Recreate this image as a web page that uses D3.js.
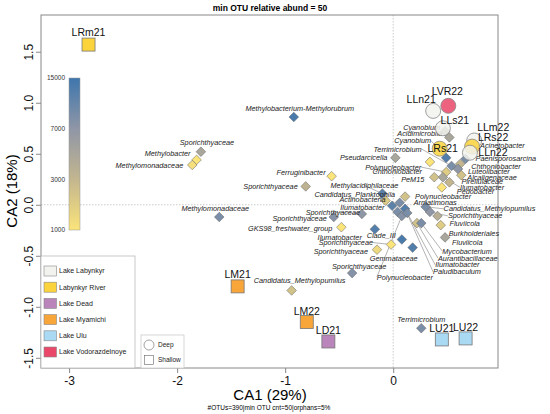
<!DOCTYPE html>
<html>
<head>
<meta charset="utf-8">
<script src="https://cdn.jsdelivr.net/npm/d3@7"></script>
<style>
  body { margin: 0; background: #fff; }
  text { font-family: "Liberation Sans", Arial, sans-serif; }
</style>
</head>
<body>
<script>
// samples (lake sites)
const sampleNames = ['LRm21','LVR22','LLn21','LLs21','LRs21','LLm22','LRs22','LLn22','LM21','LM22','LD21','LU21','LU22'];
const sampleCA1 = [-2.82, 0.51, 0.37, 0.46, 0.43, 0.75, 0.73, 0.71, -1.44, -0.80, -0.60, 0.45, 0.67];
const sampleCA2 = [1.57, 0.97, 0.92, 0.75, 0.55, 0.63, 0.57, 0.51, -0.80, -1.15, -1.34, -1.32, -1.31];
const sampleLake = ['Labynkyr River','Lake Vodorazdelnoye','Lake Labynkyr','Lake Labynkyr','Labynkyr River','Lake Labynkyr','Labynkyr River','Lake Labynkyr','Lake Myamichi','Lake Myamichi','Lake Dead','Lake Ulu','Lake Ulu'];
const sampleDepth = ['Shallow','Deep','Deep','Deep','Deep','Deep','Deep','Deep','Shallow','Shallow','Shallow','Shallow','Shallow'];

const lakes = ['Lake Labynkyr','Labynkyr River','Lake Dead','Lake Myamichi','Lake Ulu','Lake Vodorazdelnoye'];
const lakeColors = ['#f2f2ef','#fbd33c','#b985bb','#f8a53a','#aad9f3','#ea4869'];
const depths = ['Deep','Shallow'];

// OTUs (taxa)
const otuNames = ['Sporichthyaceae','Methylobacter','Methylomonadaceae','Methylobacterium-Methylorubrum','Ferruginibacter',
  'Sporichthyaceae','Methylomonadaceae','Pseudarcicella','Cyanobium','Acidimicrobiia',
  'Cyanobium','Terrimicrobium','Chthoniobacter','Polynucleobacter','Acinetobacter',
  'Paenisporosarcina','Chthoniobacter','Luteolibacter','Alcaligenaceae','Pirellulaceae',
  'Ilumatobacter','Pedobacter','PeM15','Methylacidiphilaceae','Candidatus_Planktophila',
  'Actinobacteria','Ilumatobacter','Sporichthyaceae','Sporichthyaceae','GKS98_freshwater_group',
  'Ilumatobacter','Clade_III','Sporichthyaceae','Sporichthyaceae','Gemmataceae',
  'Sporichthyaceae','Polynucleobacter','Paludibaculum','Ilumatobacter','Aurantibacillaceae',
  'Mycobacterium','Fluviicola','Burkholderiales','Fluviicola','Sporichthyaceae',
  'Candidatus_Methylopumilus','Polynucleobacter','Armatimonas','Terrimicrobium','Candidatus_Methylopumilus'];
const otuCA1 = [-1.78,-1.82,-1.86,-0.92,-0.57, -0.81,-1.61,0.02,0.48,0.52, 0.49,0.54,0.34,0.49,0.73,
  0.67,0.62,0.60,0.63,0.52, 0.46,0.45,0.38,-0.10,-0.01, -0.07,0.04,-0.29,-0.55,-0.48,
  -0.17,0.08,-0.02,-0.15,0.18, -0.38,0.08,0.11,0.13,0.22, 0.26,0.48,0.44,0.41,0.34,
  0.30,0.11,0.06,0.26,-0.94];
const otuCA2 = [0.52,0.44,0.39,0.86,0.28, 0.18,-0.12,0.46,0.72,0.66, 0.46,0.38,0.42,0.32,0.55,
  0.45,0.40,0.35,0.29,0.22, 0.27,0.17,0.27,0.11,-0.01, 0.04,-0.07,-0.09,-0.12,-0.22,
  -0.24,-0.34,-0.39,-0.44,-0.42, -0.67,-0.11,-0.04,-0.08,-0.18, -0.18,-0.32,-0.20,-0.11,-0.07,
  -0.02,0.08,0.02,-1.21,-0.84];
const otuAbund = [5000,1000,1200,14000,1000, 3500,9000,5000,5000,5000, 13000,9000,1000,2000,14000,
  9000,3000,7000,2500,3000, 5000,1000,2500,12000,12000, 2000,9000,7000,8000,1000,
  13000,14000,1000,1500,13000, 8000,8000,13000,9000,2500, 9000,5000,2000,4000,7000,
  9000,2500,9000,9000,2500];

// colour bar
const barTicks = [1000, 3000, 7000, 15000];
const barColors = ['#fbe47a', '#c3b68f', '#8f96a6', '#3e76ad'];

// label placement (pixel offsets from point, anchor)
const otuLabelShift = [[6,-9,'middle'],[-6,-6,'end'],[-9,0,'end'],[6,-9,'middle'],[-6,-4,'end'],
  [-8,0,'end'],[-4,-9,'middle'],[-8,0,'end'],[-5,-4,'end'],[-7,-4,'end'],
  [-15,-17,'end'],[-30,-17,'end'],[-8,10,'end'],[-25,-5,'end'],[8,-3,'start'],
  [10,0,'start'],[11,2,'start'],[10,2,'start'],[6,2,'start'],[12,-1,'start'],
  [17,10,'start'],[15,4,'start'],[-10,2,'end'],[-18,-8,'middle'],[3,-11,'end'],
  [0,-1,'end'],[-13,-4,'end'],[-29,-2,'middle'],[-7,1,'end'],[-9,1,'end'],
  [-13,8,'end'],[-6,-4,'end'],[-18,-2,'end'],[-9,2,'end'],[5,11,'end'],
  [7,-7,'middle'],[-25,61,'start'],[28,63,'start'],[28,52,'start'],[21,35,'start'],
  [21,28,'start'],[7,5,'start'],[8,8,'start'],[12,7,'start'],[18,4,'start'],
  [18,2,'start'],[10,0,'start'],[14,0,'start'],[0,-9,'middle'],[8,-10,'middle']];
const sampleLabelShift = [[0,-12],[-1,-14],[-12,-12],[12,-8],[3,0],[19,-13],[21,-9],[23,0],[0,-12],[0,-11],[0,-11],[0,-11],[0,-11]];

const W = 550, H = 414;
const svg = d3.select('body').append('svg').attr('width', W).attr('height', H);

const x = d3.scaleLinear().domain([-3.26, 0.97]).range([41, 498]);
const y = d3.scaleLinear().domain([-1.6, 1.86]).range([368, 15]);
const color = d3.scaleLinear().domain(barTicks).range(barColors);
const lakeColor = d3.scaleOrdinal().domain(lakes).range(lakeColors);

// zero lines
svg.append('line').attr('x1', x(0)).attr('x2', x(0)).attr('y1', 15).attr('y2', 368)
  .attr('stroke', '#aaa').attr('stroke-width', 0.6).attr('stroke-dasharray', '1.5,1.5');
svg.append('line').attr('x1', 41).attr('x2', 498).attr('y1', y(0)).attr('y2', y(0))
  .attr('stroke', '#aaa').attr('stroke-width', 0.6).attr('stroke-dasharray', '1.5,1.5');

// frame
svg.append('rect').attr('x', 41).attr('y', 15).attr('width', 457).attr('height', 353)
  .attr('fill', 'none').attr('stroke', '#888').attr('stroke-width', 1);

// axes
const xAxis = svg.append('g').attr('transform', 'translate(0,368)')
  .call(d3.axisBottom(x).tickValues([-3, -2, -1, 0]).tickFormat(function(d) { return String(d); }).tickSize(5).tickPadding(3));
const yAxis = svg.append('g').attr('transform', 'translate(41,0)')
  .call(d3.axisLeft(y).tickValues([-1.5, -1, -0.5, 0, 0.5, 1, 1.5]).tickFormat(function(d) { return d.toFixed(1); }).tickSize(5).tickPadding(3));
[xAxis, yAxis].forEach(function(g) {
  g.select('.domain').remove();
  g.selectAll('line').attr('stroke', '#888');
  g.selectAll('text').attr('font-size', 12).attr('fill', '#111')
    .style('font-family', '"Liberation Sans", Arial, sans-serif');
});
yAxis.selectAll('text')
  .attr('x', -12).attr('dy', '0.35em').attr('text-anchor', 'middle')
  .attr('transform', 'rotate(-90,-12,0)');

// titles
svg.append('text').attr('x', 270).attr('y', 11).attr('text-anchor', 'middle')
  .attr('font-size', 8.5).attr('font-weight', 'bold').text('min OTU relative abund = 50');
svg.append('text').attr('x', 270).attr('y', 400).attr('text-anchor', 'middle')
  .attr('font-size', 15).text('CA1 (29%)');
svg.append('text').attr('x', 269).attr('y', 410).attr('text-anchor', 'middle')
  .attr('font-size', 6.5).text('#OTUs=390|min OTU cnt=50|orphans=5%');
svg.append('text').attr('transform', 'translate(17,191) rotate(-90)').attr('text-anchor', 'middle')
  .attr('font-size', 15).text('CA2 (18%)');

// colour bar
const bar = d3.scalePoint().domain(barTicks).range([230, 78]);
const defs = svg.append('defs');
const grad = defs.append('linearGradient').attr('id', 'cbar').attr('x1', 0).attr('x2', 0).attr('y1', 1).attr('y2', 0);
barTicks.forEach(function(t, i) {
  grad.append('stop').attr('offset', (i / (barTicks.length - 1) * 100) + '%').attr('stop-color', barColors[i]);
});
svg.append('rect').attr('x', 69).attr('y', 78).attr('width', 11).attr('height', 152)
  .attr('fill', 'url(#cbar)').attr('stroke', '#999').attr('stroke-width', 0.5);
svg.selectAll('.cbl').data(barTicks).enter().append('text')
  .attr('x', 65).attr('y', function(d) { return bar(d); }).attr('dy', '0.35em')
  .attr('text-anchor', 'end').attr('font-size', 6.5).attr('fill', '#333').text(function(d) { return d; });

// OTU data
const otus = otuNames.map(function(n, i) {
  return { name: n, cx: x(otuCA1[i]), cy: y(otuCA2[i]), ab: otuAbund[i],
           dx: otuLabelShift[i][0], dy: otuLabelShift[i][1], anchor: otuLabelShift[i][2] };
});

// leader lines
svg.selectAll('.lead').data(otus.filter(function(d) { return Math.abs(d.dx) > 16 || Math.abs(d.dy) > 12; }))
  .enter().append('line')
  .attr('x1', function(d) { return d.cx; }).attr('y1', function(d) { return d.cy; })
  .attr('x2', function(d) { return d.cx + d.dx; }).attr('y2', function(d) { return d.cy + d.dy; })
  .attr('stroke', '#666').attr('stroke-width', 0.5);

// diamonds
svg.selectAll('.otu').data(otus).enter().append('rect')
  .attr('x', -3.4).attr('y', -3.4).attr('width', 6.8).attr('height', 6.8)
  .attr('transform', function(d) { return 'translate(' + d.cx + ',' + d.cy + ') rotate(45)'; })
  .attr('fill', function(d) { return color(d.ab); })
  .attr('stroke', '#666').attr('stroke-width', 0.5);

// OTU labels
svg.selectAll('.otul').data(otus).enter().append('text')
  .attr('x', function(d) { return d.cx + d.dx; }).attr('y', function(d) { return d.cy + d.dy; })
  .attr('dy', '0.35em').attr('text-anchor', function(d) { return d.anchor; })
  .attr('font-size', 7.3).attr('font-style', 'italic').attr('fill', '#222')
  .text(function(d) { return d.name; });

// samples
const samples = sampleNames.map(function(n, i) {
  return { name: n, cx: x(sampleCA1[i]), cy: y(sampleCA2[i]), lake: sampleLake[i], depth: sampleDepth[i],
           dx: sampleLabelShift[i][0], dy: sampleLabelShift[i][1] };
});
svg.selectAll('.deep').data(samples.filter(function(d) { return d.depth === 'Deep'; })).enter().append('circle')
  .attr('cx', function(d) { return d.cx; }).attr('cy', function(d) { return d.cy; }).attr('r', 7.5)
  .attr('fill', function(d) { return lakeColor(d.lake); }).attr('fill-opacity', 0.85)
  .attr('stroke', '#888').attr('stroke-width', 0.8);
svg.selectAll('.shallow').data(samples.filter(function(d) { return d.depth === 'Shallow'; })).enter().append('rect')
  .attr('x', function(d) { return d.cx - 6.5; }).attr('y', function(d) { return d.cy - 6.5; })
  .attr('width', 13).attr('height', 13)
  .attr('fill', function(d) { return lakeColor(d.lake); })
  .attr('stroke', '#777').attr('stroke-width', 0.8);
svg.selectAll('.sl').data(samples).enter().append('text')
  .attr('x', function(d) { return d.cx + d.dx; }).attr('y', function(d) { return d.cy + d.dy; })
  .attr('dy', '0.35em').attr('text-anchor', 'middle').attr('font-size', 10.5).attr('fill', '#111')
  .text(function(d) { return d.name; });

// lake legend
const leg = svg.append('g');
leg.append('rect').attr('x', 41).attr('y', 256).attr('width', 94).attr('height', 112)
  .attr('fill', '#fff').attr('stroke', '#bbb').attr('stroke-width', 0.8);
const legY = d3.scalePoint().domain(lakes).range([271, 352]);
leg.selectAll('.ls').data(lakes).enter().append('rect')
  .attr('x', 44).attr('y', function(d) { return legY(d) - 5; }).attr('width', 12.5).attr('height', 10)
  .attr('fill', function(d) { return lakeColor(d); }).attr('stroke', '#888').attr('stroke-width', 0.6);
leg.selectAll('.lt').data(lakes).enter().append('text')
  .attr('x', 59).attr('y', function(d) { return legY(d); }).attr('dy', '0.35em')
  .attr('font-size', 7).attr('fill', '#222').text(function(d) { return d; });

// shape legend
const sleg = svg.append('g');
sleg.append('rect').attr('x', 141).attr('y', 335).attr('width', 43).attr('height', 33)
  .attr('fill', '#fff').attr('stroke', '#ccc').attr('stroke-width', 0.8);
const shY = d3.scalePoint().domain(depths).range([345, 360]);
sleg.append('circle').attr('cx', 149).attr('cy', shY('Deep')).attr('r', 5)
  .attr('fill', '#fff').attr('stroke', '#666').attr('stroke-width', 0.6);
sleg.append('rect').attr('x', 144.5).attr('y', shY('Shallow') - 4.5).attr('width', 9).attr('height', 9)
  .attr('fill', '#fff').attr('stroke', '#666').attr('stroke-width', 0.6);
sleg.selectAll('.st').data(depths).enter().append('text')
  .attr('x', 158).attr('y', function(d) { return shY(d); }).attr('dy', '0.35em')
  .attr('font-size', 6.5).attr('fill', '#222').text(function(d) { return d; });
</script>
</body>
</html>
